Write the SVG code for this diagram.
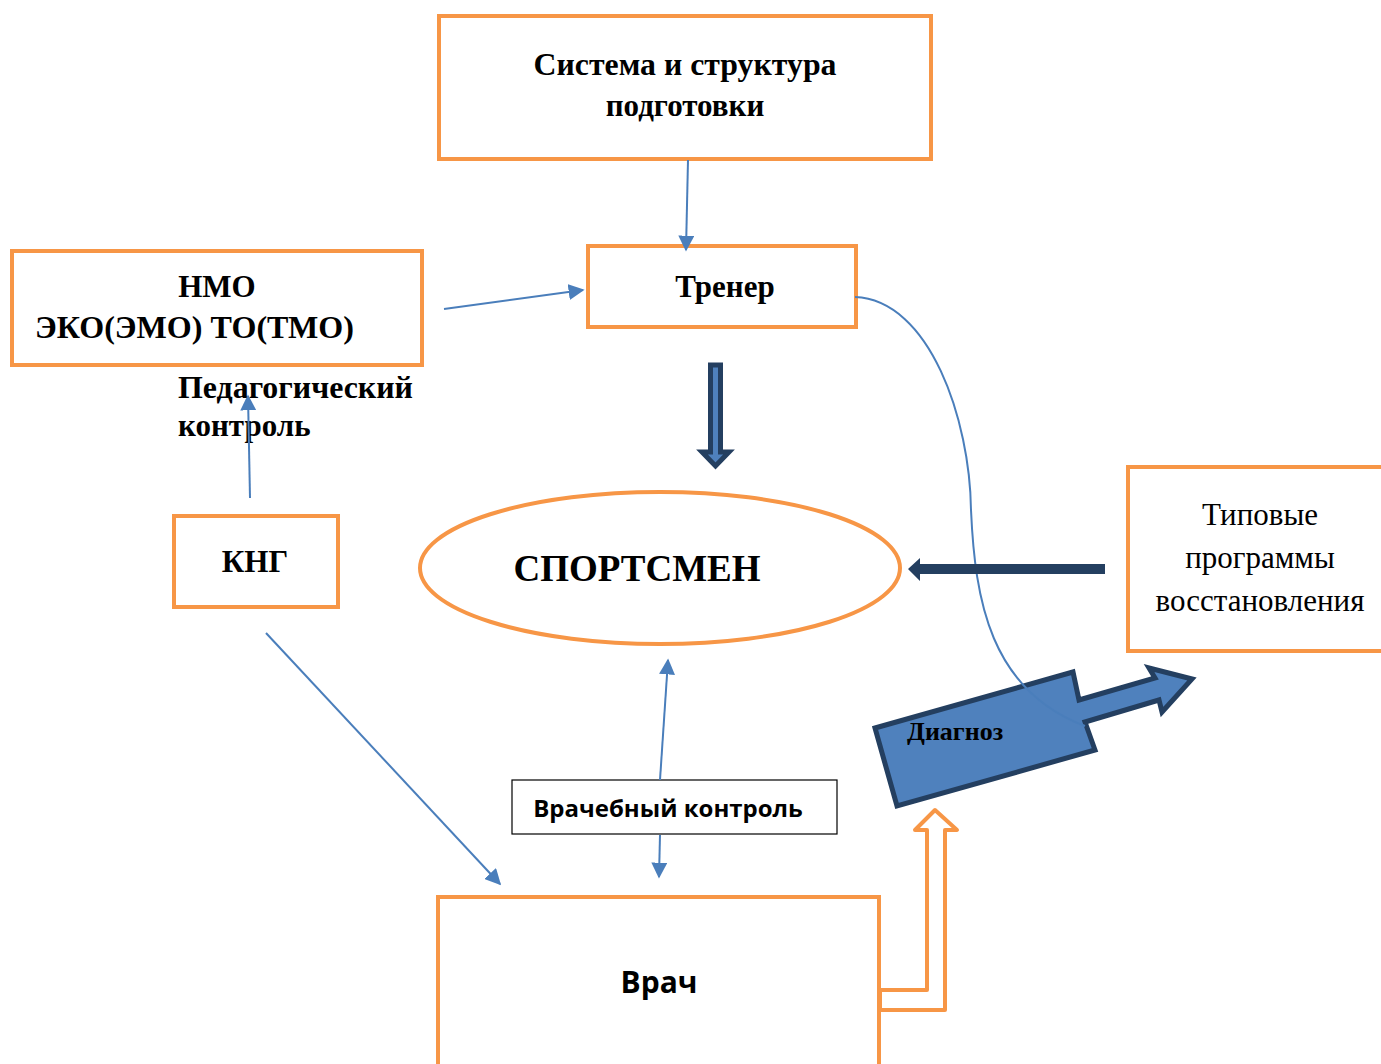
<svg xmlns="http://www.w3.org/2000/svg" width="1381" height="1064" viewBox="0 0 1381 1064">
<defs>
<style>
.box{fill:#fff;stroke:#f79646;stroke-width:4}
.t{font-family:"Liberation Serif","Times New Roman",serif;font-weight:bold;fill:#000}
.tn{font-family:"Liberation Serif","Times New Roman",serif;fill:#000}
.s{font-family:"Open Sans","Liberation Sans",Arial,sans-serif;font-weight:bold;fill:#000}
.ln{fill:none;stroke:#4a7ebb;stroke-width:2}
</style>
<marker id="ah2" viewBox="0 0 10 10" refX="9" refY="5" markerWidth="16" markerHeight="16" markerUnits="userSpaceOnUse" orient="auto">
<path d="M0,0 L10,5 L0,10 z" fill="#4a7ebb"/>
</marker>
</defs>
<rect width="1381" height="1064" fill="#fff"/>

<g id="sistema">
<rect class="box" x="439" y="16" width="492" height="143"/>
<text class="t" x="685" y="75" font-size="31" text-anchor="middle" textLength="303" lengthAdjust="spacingAndGlyphs">Система и структура</text>
<text class="t" x="685" y="116" font-size="31" text-anchor="middle">подготовки</text>
</g>

<g id="trener">
<rect class="box" x="588" y="246" width="268" height="81"/>
<text class="t" x="725" y="297" font-size="31" text-anchor="middle">Тренер</text>
</g>

<g id="nmo">
<rect class="box" x="12" y="251" width="410" height="114"/>
<text class="t" x="217" y="297" font-size="31" text-anchor="middle">НМО</text>
<text class="t" x="35" y="338" font-size="31" textLength="319" lengthAdjust="spacingAndGlyphs">ЭКО(ЭМО) ТО(ТМО)</text>
</g>

<g id="ped">
<text class="t" x="178" y="398" font-size="31" textLength="235" lengthAdjust="spacingAndGlyphs">Педагогический</text>
<text class="t" x="178" y="436" font-size="31">контроль</text>
</g>

<g id="kng">
<rect class="box" x="174" y="516" width="164" height="91"/>
<text class="t" x="255" y="572" font-size="31" text-anchor="middle">КНГ</text>
</g>

<g id="sportsmen">
<ellipse cx="660" cy="568" rx="240" ry="76" fill="#fff" stroke="#f79646" stroke-width="4"/>
<text class="t" x="637" y="581" font-size="37" text-anchor="middle">СПОРТСМЕН</text>
</g>

<g id="tipovye">
<rect class="box" x="1128" y="467" width="260" height="184"/>
<text class="tn" x="1260" y="525" font-size="31" text-anchor="middle">Типовые</text>
<text class="tn" x="1260" y="568" font-size="31" text-anchor="middle">программы</text>
<text class="tn" x="1260" y="611" font-size="31" text-anchor="middle">восстановления</text>
</g>

<g id="diagnoz">
<polygon points="875,728 1073,672 1079,700 1155,678 1149,668 1192,679 1162,712 1159,700 1085,722 1095,750 897,806" fill="#4f81bd" stroke="#243f60" stroke-width="5" stroke-linejoin="miter"/>
<text class="t" x="907" y="740" font-size="26">Диагноз</text>
</g>

<g id="vrach-kontrol">
<rect x="512" y="780" width="325" height="54" fill="#fff" stroke="#000" stroke-width="1.2"/>
<text class="s" x="668" y="817" font-size="24" text-anchor="middle">Врачебный контроль</text>
</g>

<g id="vrach">
<rect class="box" x="438" y="897" width="441" height="180"/>
<text class="s" x="659" y="993" font-size="30" text-anchor="middle">Врач</text>
</g>

<g id="connectors">
<line class="ln" x1="688" y1="160" x2="686" y2="250" marker-end="url(#ah2)"/>
<line class="ln" x1="444" y1="309" x2="583" y2="290" marker-end="url(#ah2)"/>
<line class="ln" x1="250" y1="498" x2="248" y2="396" marker-end="url(#ah2)"/>
<line class="ln" x1="266" y1="633" x2="500" y2="884" marker-end="url(#ah2)"/>
<line class="ln" x1="660" y1="780" x2="668" y2="660" marker-end="url(#ah2)"/>
<line class="ln" x1="660" y1="835" x2="659" y2="877" marker-end="url(#ah2)"/>
<path class="ln" d="M855,297 C930,300 970,420 971,510 C975,600 990,690 1085,726" stroke-width="1.5"/>
<polygon points="710.5,365 720.5,365 720.5,452 729,452 715.5,466 702,452 710.5,452" fill="#4f81bd" stroke="#243f60" stroke-width="5"/>
<polygon points="1105,564 920,564 920,558 908,569 920,581 920,574 1105,574" fill="#243f60"/>
<polygon points="880,990 927,990 927,830 915,830 935,810 957,830 945,830 945,1010 880,1010" fill="none" stroke="#f79646" stroke-width="4" stroke-linejoin="round"/>
</g>
</svg>
